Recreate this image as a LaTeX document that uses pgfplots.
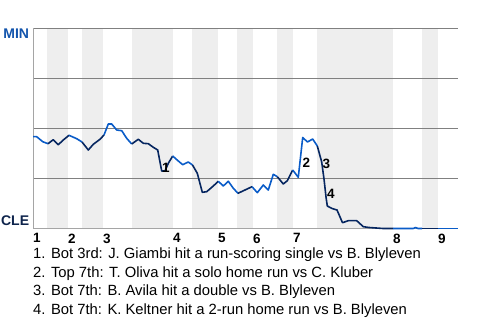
\documentclass[border=0pt]{standalone}
\usepackage{fontspec}
\setmainfont{Liberation Sans}
\usepackage{pgfplots}
\pgfplotsset{compat=1.18}
\definecolor{minblue}{RGB}{10,92,200}
\definecolor{clenavy}{RGB}{6,38,96}
\definecolor{minlabel}{RGB}{18,84,172}
\definecolor{clelabel}{RGB}{14,36,76}
\definecolor{band}{RGB}{238,238,238}
\definecolor{gridc}{RGB}{128,128,128}
\definecolor{axc}{RGB}{165,165,165}
\begin{document}
\begin{tikzpicture}
\begin{axis}[
  set layers,
  at={(33pt,91.5pt)}, anchor=south west,
  scale only axis, width=425pt, height=200pt,
  xmin=33, xmax=458, ymin=0, ymax=100,
  axis x line*=bottom, axis y line*=left,
  axis line style={axc, line width=0.9pt, -},
  ytick={25,50,75,100}, yticklabels={},
  ymajorgrids, grid style={gridc, line width=0.9pt},
  xtick={37,72,107,177,222,257,297,397,442},
  xticklabels={1,2,3,4,5,6,7,8,9},
  major tick length=0pt,
  xticklabel style={font=\bfseries\fontsize{13.5}{13.5}\selectfont, inner sep=0pt, anchor=north, yshift=-5pt},
  clip=false,
]
% half-inning bands (bottom halves)
\addplot[on layer=axis background, draw=none, fill=band] coordinates {(47,0)(47,100)(68,100)(68,0)} -- cycle;
\addplot[on layer=axis background, draw=none, fill=band] coordinates {(82,0)(82,100)(103,100)(103,0)} -- cycle;
\addplot[on layer=axis background, draw=none, fill=band] coordinates {(132,0)(132,100)(173,100)(173,0)} -- cycle;
\addplot[on layer=axis background, draw=none, fill=band] coordinates {(192,0)(192,100)(218,100)(218,0)} -- cycle;
\addplot[on layer=axis background, draw=none, fill=band] coordinates {(237,0)(237,100)(253,100)(253,0)} -- cycle;
\addplot[on layer=axis background, draw=none, fill=band] coordinates {(277,0)(277,100)(293,100)(293,0)} -- cycle;
\addplot[on layer=axis background, draw=none, fill=band] coordinates {(317,0)(317,100)(393,100)(393,0)} -- cycle;
\addplot[on layer=axis background, draw=none, fill=band] coordinates {(422,0)(422,100)(438,100)(438,0)} -- cycle;
% win probability line
\pgfplotsset{every axis plot/.append style={line width=1.6pt, line join=round}}
\addplot[minblue] coordinates {(33,45.9)(36.7,45.9)(42.7,43.4)(48,42.4)};
\addplot[clenavy] coordinates {(48,42.4)(53.3,44.4)(58.3,41.9)(63.3,44.25)(69,46.6)};
\addplot[minblue] coordinates {(69,46.6)(76.7,44.9)(82,43.25)};
\addplot[clenavy] coordinates {(82,43.25)(88.3,39.25)(93.3,42.1)(100,44.6)(104,46.75)};
\addplot[minblue] coordinates {(104,46.75)(108.3,52.25)(111.7,52.25)(116.7,49.25)(121.7,48.9)(126.7,45.1)(131.7,42.25)};
\addplot[clenavy] coordinates {(131.7,42.25)(138.3,44.6)(143.3,42.6)(148.3,42.4)(153.3,40.6)(157.7,39.25)(161.7,28.75)(165,28.75)(168.3,32.6)(172.7,36.25)};
\addplot[minblue] coordinates {(172.7,36.25)(177.7,34)(182.7,31.9)(188.3,33.25)(192.5,31.75)};
\addplot[clenavy] coordinates {(192.5,31.75)(197.3,27.6)(202.3,18.1)(206.7,18.4)(213.3,21.25)(218.3,23.6)};
\addplot[minblue] coordinates {(218.3,23.6)(223.3,21.25)(228.3,23.6)(233.3,20.1)(238,17.6)};
\addplot[clenavy] coordinates {(238,17.6)(245,19.25)(252,20.9)};
\addplot[minblue] coordinates {(252,20.9)(257.3,17.9)(263.3,21.75)(268.3,19.25)(273.3,27.1)(277.3,25.9)};
\addplot[clenavy] coordinates {(277.3,25.9)(283.3,22.25)(287.3,23.9)(292.7,29.25)};
\addplot[minblue] coordinates {(292.7,29.25)(298.3,25.6)(302.7,45.5)(307.5,43.25)(312.7,44.75)(317.3,41.25)};
\addplot[clenavy] coordinates {(317.3,41.25)(321.7,33.25)(324,24.75)(326,15.75)(327.3,11.25)(332,10)(337,9.25)(342.5,2.9)(348.3,3.9)(356.7,3.9)(363.3,0.9)(369,0.5)(383,0)(393,0)};
\addplot[minblue] coordinates {(393,0)(413.3,0)(415.5,0.5)(418,0)(422,0)};
\addplot[clenavy] coordinates {(422,0)(438,0)};
\addplot[minblue] coordinates {(438,0)(458,0)};
% event markers
\node[font=\bfseries\fontsize{13.5}{13.5}\selectfont, inner sep=0pt] at (axis cs:166,30.3) {1};
\node[font=\bfseries\fontsize{13.5}{13.5}\selectfont, inner sep=0pt] at (axis cs:306.5,32.8) {2};
\node[font=\bfseries\fontsize{13.5}{13.5}\selectfont, inner sep=0pt] at (axis cs:326.5,32.4) {3};
\node[font=\bfseries\fontsize{13.5}{13.5}\selectfont, inner sep=0pt] at (axis cs:331,17.2) {4};
\end{axis}
\node[anchor=east, inner sep=0pt, text=minlabel, font=\bfseries\fontsize{14}{14}\selectfont] at (29.3pt,286.5pt) {MIN};
\node[anchor=east, inner sep=0pt, text=clelabel, font=\bfseries\fontsize{14}{14}\selectfont] at (29.3pt,99pt) {CLE};
\begin{scope}[every node/.style={anchor=base west, inner sep=0pt, font=\fontsize{14.8}{18.7}\selectfont}]
\node at (33pt,61.5pt) {1. Bot 3rd: J. Giambi hit a run-scoring single vs B. Blyleven};
\node at (33pt,42.8pt) {2. Top 7th: T. Oliva hit a solo home run vs C. Kluber};
\node at (33pt,24.1pt) {3. Bot 7th: B. Avila hit a double vs B. Blyleven};
\node at (33pt,5.4pt) {4. Bot 7th: K. Keltner hit a 2-run home run vs B. Blyleven};
\end{scope}
\path (0pt,0pt) rectangle (480pt,320pt);
\end{tikzpicture}
\end{document}
